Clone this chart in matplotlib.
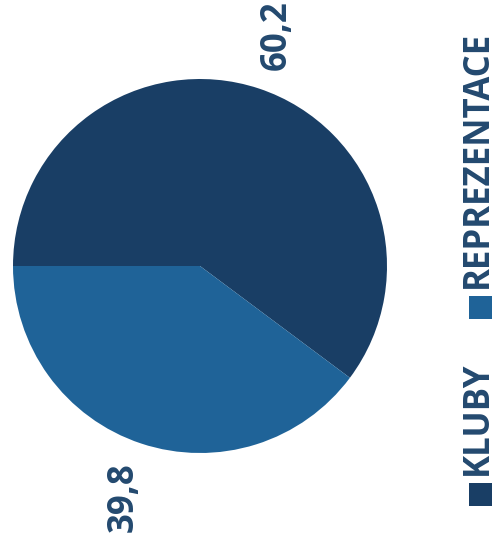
import matplotlib
matplotlib.use("Agg")
import matplotlib.pyplot as plt
from matplotlib.patches import Rectangle

categories = ["KLUBY", "REPREZENTACE"]
values = [60.2, 39.8]
value_labels = ["60,2", "39,8"]
colors = ["#193e65", "#1f6398"]
text_color = "#23496f"

W, H = 496, 553
fig = plt.figure(figsize=(W / 100, H / 100), dpi=100)
fig.patch.set_facecolor("white")

# pie axes: center ~ (200, 266) px, radius ~187 px
cx, cy, r = 200, 266, 187
ax = fig.add_axes([(cx - r) / W, (H - cy - r) / H, 2 * r / W, 2 * r / H])
wedges, texts = ax.pie(values, colors=colors, startangle=180, counterclock=False,
                       labels=value_labels, labeldistance=1.3,
                       wedgeprops=dict(linewidth=0),
                       textprops=dict(fontsize=25, fontweight="bold", color=text_color,
                                      family="Open Sans"))
for t in texts:
    t.set_rotation(90)
    t.set_ha("center")
    t.set_va("center")
ax.set_xlim(-1, 1)
ax.set_ylim(-1, 1)
ax.set_aspect("equal")
ax.axis("off")

# rotated legend on the right (reads bottom to top)
lx = 478
starts = [506, 319]  # bottom of each legend square (px from top)
sq = 23
for cat, col, y0 in zip(categories, colors, starts):
    fig.patches.append(Rectangle(((lx + 2 - sq / 2) / W, (H - y0) / H), sq / W, sq / H,
                                 transform=fig.transFigure, facecolor=col, edgecolor="none"))
    fig.text(lx / W, (H - y0 + sq + 8) / H, cat, rotation=90, ha="center", va="bottom",
             fontsize=25, fontweight="bold", color=text_color, family="Open Sans")

fig.savefig("out.png", dpi=100, facecolor="white")
